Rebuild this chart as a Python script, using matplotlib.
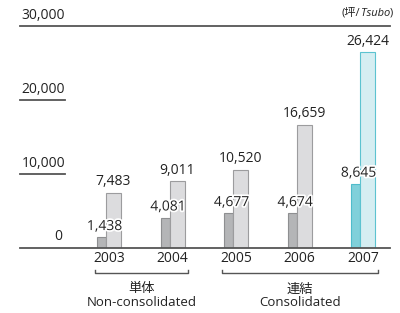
import matplotlib
matplotlib.use('Agg')
import matplotlib.pyplot as plt
import matplotlib.patheffects as pe
import matplotlib.transforms as mtransforms

years = ['2003', '2004', '2005', '2006', '2007']
small = [1438, 4081, 4677, 4674, 8645]
large = [7483, 9011, 10520, 16659, 26424]
yticks = [10000, 20000, 30000]

plt.rcParams['font.family'] = ['Open Sans', 'Noto Sans CJK JP', 'DejaVu Sans']

fig = plt.figure(figsize=(4, 3.13), dpi=100)
ax = fig.add_axes([0.05, (313 - 248) / 313, 0.925, (248 - 26) / 313])
ax.set_xlim(-1.4016, 4.425)
ax.set_ylim(0, 30000)
ax.axis('off')

line_col = '#555555'
txt_col = '#222222'

# bars: narrow dark one behind, wide light one in front
for i, (s, l) in enumerate(zip(small, large)):
    if years[i] == '2007':
        dc, de, lc, le = '#80d0da', '#4fbccb', '#d5eef2', '#5cc3d0'
    else:
        dc, de, lc, le = '#b4b5b7', '#8e8f91', '#dcdcde', '#9c9c9e'
    ax.bar(i - 0.118, s, width=0.142, color=dc, edgecolor=de, linewidth=0.8, zorder=2)
    ax.bar(i + 0.071, l, width=0.236, color=lc, edgecolor=le, linewidth=0.8, zorder=3)
    ax.text(i + 0.071, l + 500, f'{l:,}', ha='center', va='bottom', fontsize=10,
            color=txt_col, zorder=5)
    ax.text(i - 0.07, s + 450, f'{s:,}', ha='center', va='bottom', fontsize=10,
            color=txt_col, zorder=5,
            path_effects=[pe.withStroke(linewidth=2.5, foreground='white')])
    ax.text(i, -1486, years[i], ha='center', va='center', fontsize=10,
            color=txt_col, clip_on=False)

# axis lines
ax.plot([-1.4016, 4.425], [0, 0], color=line_col, lw=1.3, clip_on=False, zorder=4)
ax.plot([-1.4016, 4.425], [30000, 30000], color=line_col, lw=1.3, clip_on=False)

trans = mtransforms.blended_transform_factory(ax.transAxes, ax.transData)
for t in yticks:
    if t != 30000:
        ax.plot([0, 0.1216], [t, t], color=line_col, lw=1.3, transform=trans, clip_on=False)
    ax.text(0.1216, t + 350, f'{t:,}', ha='right', va='bottom', fontsize=10,
            color=txt_col, transform=trans)
ax.text(0.1135, 500, '0', ha='right', va='bottom', fontsize=10, color=txt_col,
        transform=trans)

# unit label, built from three pieces so "Tsubo" can be italic
fig.canvas.draw()
r = fig.canvas.get_renderer()
t3 = fig.text(393 / 400, 1 - 13 / 313, ')', ha='right', va='center', fontsize=8,
              color=txt_col)
w3 = t3.get_window_extent(r).width
t2 = fig.text(393 / 400, 1 - 13 / 313, 'Tsubo', ha='right', va='center', fontsize=8,
              color=txt_col, style='italic',
              transform=fig.transFigure + mtransforms.Affine2D().translate(-w3, 0))
w2 = t2.get_window_extent(r).width
fig.text(393 / 400, 1 - 13 / 313, '(坪/', ha='right', va='center', fontsize=8,
         color=txt_col,
         transform=fig.transFigure + mtransforms.Affine2D().translate(-w3 - w2, 0))

# brackets
def bracket(x0, x1, label_jp, label_en):
    yb = -3378
    h = 450
    ax.plot([x0, x0, x1, x1], [yb + h, yb, yb, yb + h], color=line_col, lw=1.0,
            clip_on=False)
    xc = (x0 + x1) / 2
    ax.text(xc, -5540, label_jp, ha='center', va='center', fontsize=9.5,
            color=txt_col, clip_on=False)
    ax.text(xc, -7432, label_en, ha='center', va='center', fontsize=9.5,
            color=txt_col, clip_on=False)

bracket(-0.22, 1.25, '単体', 'Non-consolidated')
bracket(1.78, 4.24, '連結', 'Consolidated')

fig.savefig('out.png', dpi=100)
